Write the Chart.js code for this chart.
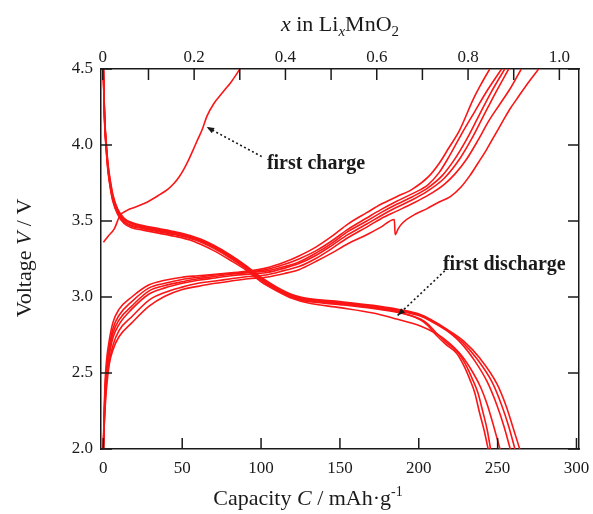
<!DOCTYPE html>
<html>
<head>
<meta charset="utf-8">
<script src="https://cdn.jsdelivr.net/npm/chart.js@4.4.0/dist/chart.umd.min.js"></script>
<style>
  html, body { margin: 0; padding: 0; background: #fff; }
  canvas { display: block; }
</style>
</head>
<body>
<canvas id="myChart" width="593" height="514"></canvas>
<script>
// capacity (mAh/g), voltage (V)
const firstCharge = [[0,3.36],[3,3.40],[7,3.45],[10.5,3.535],[15,3.57],[20,3.59],[28,3.625],[36,3.675],[41,3.71],[45,3.75],[48,3.79],[51,3.84],[54,3.90],[57,3.97],[60,4.04],[62.6,4.10],[65.7,4.19],[69.9,4.27],[76,4.35],[81.4,4.42],[86.6,4.5]];

const charge2 = [[0,2.0],[0.4,2.2],[1,2.42],[2,2.58],[3.5,2.7],[6,2.83],[10,2.92],[18,3.0],[29,3.08],[39,3.11],[50,3.13],[60,3.14],[71,3.15],[81,3.16],[92,3.17],[103,3.19],[115,3.23],[124,3.27],[135,3.33],[145,3.40],[155,3.48],[167,3.555],[176,3.61],[186,3.66],[196,3.71],[206,3.79],[213,3.88],[219,3.98],[226,4.10],[234.5,4.3],[239.5,4.4],[245,4.5]];
const charge3 = [[0,2.0],[0.4,2.18],[1,2.38],[2,2.54],[3.5,2.66],[6,2.79],[10,2.88],[18,2.97],[29,3.06],[39,3.09],[50,3.115],[60,3.13],[71,3.145],[81,3.155],[92,3.165],[103,3.18],[115,3.215],[124,3.25],[135,3.305],[145,3.37],[155,3.445],[167,3.52],[176,3.575],[186,3.63],[196,3.68],[206,3.74],[213,3.82],[219,3.92],[227,4.07],[235.5,4.22],[243.5,4.36],[252.5,4.5]];
const charge4 = [[0,2.0],[0.4,2.16],[1,2.35],[2,2.51],[3.5,2.63],[6,2.76],[10,2.85],[18,2.94],[29,3.04],[39,3.075],[50,3.1],[60,3.12],[71,3.135],[81,3.15],[92,3.16],[103,3.17],[115,3.2],[124,3.23],[135,3.29],[145,3.355],[155,3.43],[167,3.50],[176,3.555],[186,3.61],[196,3.66],[206,3.72],[215,3.80],[223,3.91],[230.5,4.04],[237.5,4.18],[245.5,4.34],[254.5,4.5]];
const charge5 = [[0,2.0],[0.4,2.15],[1,2.32],[2,2.48],[3.5,2.6],[6,2.73],[10,2.82],[18,2.92],[29,3.02],[39,3.06],[50,3.09],[60,3.11],[71,3.125],[81,3.14],[92,3.15],[103,3.16],[115,3.19],[124,3.22],[135,3.275],[145,3.34],[155,3.41],[167,3.48],[176,3.535],[186,3.59],[196,3.64],[206,3.70],[216,3.78],[226,3.91],[233.5,4.04],[240.5,4.18],[248.5,4.34],[257,4.5]];
const charge6 = [[0,2.0],[0.4,2.13],[1,2.28],[2,2.44],[3.5,2.56],[6,2.68],[10,2.78],[18,2.87],[29,2.98],[39,3.03],[50,3.065],[60,3.09],[71,3.105],[81,3.12],[92,3.135],[103,3.145],[115,3.175],[124,3.20],[135,3.255],[145,3.32],[155,3.39],[167,3.46],[176,3.515],[186,3.565],[196,3.615],[206,3.67],[216,3.74],[223,3.81],[230.5,3.91],[237.5,4.03],[244.5,4.16],[251.5,4.27],[258.5,4.38],[265,4.5]];
const charge7 = [[0,2.0],[0.4,2.12],[1,2.25],[2,2.4],[3.8,2.56],[6,2.65],[10,2.74],[18,2.83],[29,2.94],[39,3.005],[50,3.05],[60,3.07],[71,3.09],[81,3.105],[92,3.12],[103,3.13],[115,3.155],[124,3.18],[135,3.235],[145,3.29],[155,3.35],[167,3.41],[176,3.46],[184.5,3.51],[185,3.41],[187,3.45],[190,3.49],[197,3.54],[205,3.58],[212,3.62],[220,3.66],[226.5,3.72],[232.5,3.80],[237.5,3.88],[243,3.97],[248.5,4.07],[254,4.17],[258,4.24],[262,4.30],[268,4.39],[276,4.5]];

const discharge1 = [[0,4.5],[0.4,4.28],[0.9,4.12],[2,3.94],[3,3.82],[4.5,3.71],[6,3.63],[9,3.545],[13,3.485],[18,3.455],[25,3.44],[35,3.42],[45,3.40],[55,3.375],[62,3.345],[70,3.305],[80,3.245],[90,3.18],[100,3.10],[110,3.04],[120,2.99],[130,2.96],[150,2.93],[171,2.895],[186,2.855],[201,2.81],[211,2.76],[219,2.70],[227.5,2.61],[234.5,2.50],[239.5,2.40],[243.5,2.29],[247.5,2.15],[251.5,2.0]];
const discharge2 = [[0,4.5],[0.4,4.3],[0.9,4.14],[2,3.96],[3,3.84],[4.5,3.73],[6,3.645],[9,3.56],[13,3.5],[18,3.47],[25,3.455],[35,3.435],[45,3.415],[55,3.39],[62,3.365],[70,3.325],[80,3.265],[90,3.195],[100,3.115],[110,3.05],[120,3.0],[130,2.975],[150,2.955],[171,2.93],[186,2.905],[201,2.85],[206,2.81],[211,2.75],[217,2.69],[224,2.63],[228.5,2.55],[232.5,2.455],[235.5,2.37],[238.5,2.24],[241.5,2.12],[244,2.0]];
const discharge3 = [[0,4.5],[0.4,4.29],[0.9,4.13],[2,3.95],[3,3.83],[4.5,3.72],[6,3.64],[9,3.555],[13,3.495],[18,3.465],[25,3.45],[35,3.43],[45,3.41],[55,3.385],[62,3.36],[70,3.32],[80,3.26],[90,3.19],[100,3.11],[110,3.045],[120,2.995],[130,2.97],[150,2.95],[171,2.925],[186,2.9],[201,2.855],[206,2.82],[211,2.765],[217,2.705],[224.5,2.64],[229.5,2.56],[234,2.46],[237.5,2.37],[240.5,2.25],[243.5,2.12],[245.5,2.0]];
const discharge4 = [[0,4.5],[0.4,4.31],[0.9,4.15],[2,3.97],[3,3.85],[4.5,3.74],[6,3.655],[9,3.57],[13,3.51],[18,3.48],[25,3.46],[35,3.44],[45,3.42],[55,3.395],[62,3.37],[70,3.33],[80,3.27],[90,3.20],[100,3.12],[110,3.055],[120,3.005],[130,2.98],[150,2.96],[171,2.935],[186,2.91],[201,2.875],[207,2.845],[217.5,2.78],[226.5,2.70],[235.5,2.58],[243.5,2.44],[249.5,2.29],[254,2.15],[258,2.0]];
const discharge5 = [[0,4.5],[0.4,4.32],[0.9,4.16],[2,3.98],[3,3.86],[4.5,3.75],[6,3.665],[9,3.575],[13,3.515],[18,3.485],[25,3.465],[35,3.445],[45,3.425],[55,3.4],[62,3.375],[70,3.335],[80,3.275],[90,3.205],[100,3.125],[110,3.06],[120,3.01],[130,2.985],[150,2.965],[171,2.94],[186,2.915],[201,2.88],[207,2.85],[217.5,2.785],[227.5,2.705],[237.5,2.585],[246.5,2.44],[252.5,2.29],[257,2.15],[261,2.0]];
const discharge6 = [[0,4.5],[0.4,4.33],[0.9,4.17],[2,3.99],[3,3.87],[4.5,3.76],[6,3.675],[9,3.58],[13,3.52],[18,3.49],[25,3.47],[35,3.45],[45,3.43],[55,3.405],[62,3.38],[70,3.34],[80,3.28],[90,3.21],[100,3.13],[110,3.065],[120,3.015],[130,2.99],[150,2.97],[171,2.945],[186,2.92],[201,2.885],[207,2.855],[217.5,2.79],[228.5,2.71],[238.5,2.60],[249.5,2.43],[255.5,2.28],[259.5,2.15],[264,2.0]];

const capacityTicks = [0, 50, 100, 150, 200, 250, 300];
const voltageTicks = [2.0, 2.5, 3.0, 3.5, 4.0, 4.5];
const xLiTicks = [0, 0.1, 0.2, 0.3, 0.4, 0.5, 0.6, 0.7, 0.8, 0.9, 1.0];

// labels with dotted arrows: text position, arrow start, arrow tip (data coords)
const notes = [
    { text: 'first charge', at: [103.7, 3.843], from: [100.4, 3.924], to: [65.5, 4.118] },
    { text: 'first discharge', at: [215.3, 3.178], from: [216.5, 3.172], to: [186.6, 2.879] },
];

const serif = '"Liberation Serif", "Times New Roman", serif';
const red = 'rgb(250, 22, 22)';
const ink = '#1a1a1a';

const allCurves = [firstCharge, charge2, charge3, charge4, charge5, charge6, charge7,
    discharge1, discharge2, discharge3, discharge4, discharge5, discharge6];

const datasets = allCurves.map(curve => ({
    data: curve.map(p => ({ x: p[0], y: p[1] })),
    borderColor: red,
    borderWidth: 1.6,
    pointRadius: 0,
    fill: false,
    cubicInterpolationMode: 'monotone',
}));

function near(list, v) {
    return list.some(t => Math.abs(t - v) < 1e-6);
}

// ticks drawn inward, like the original figure
const inwardTicks = {
    id: 'inwardTicks',
    afterDraw(chart) {
        const { ctx, chartArea: a, scales } = chart;
        const len = 11;
        ctx.save();
        ctx.strokeStyle = ink;
        ctx.lineWidth = 1.5;
        ctx.beginPath();
        capacityTicks.forEach(v => {
            const px = scales.x.getPixelForValue(v);
            ctx.moveTo(px, a.bottom); ctx.lineTo(px, a.bottom - len);
        });
        xLiTicks.forEach(v => {
            const px = scales.x2.getPixelForValue(v);
            ctx.moveTo(px, a.top); ctx.lineTo(px, a.top + len);
        });
        voltageTicks.forEach(v => {
            const py = scales.y.getPixelForValue(v);
            ctx.moveTo(a.left, py); ctx.lineTo(a.left + len, py);
            ctx.moveTo(a.right, py); ctx.lineTo(a.right - len, py);
        });
        ctx.stroke();
        ctx.restore();
    }
};

function drawRuns(ctx, runs, x, y) {
    let w = 0;
    runs.forEach(r => { ctx.font = r.font; w += ctx.measureText(r.text).width; });
    let cx = x - w / 2;
    runs.forEach(r => {
        ctx.font = r.font;
        ctx.fillText(r.text, cx, y + (r.dy || 0));
        cx += ctx.measureText(r.text).width;
    });
}

const axisTitles = {
    id: 'axisTitles',
    afterDraw(chart) {
        const ctx = chart.ctx;
        const f = '22px ' + serif;
        const fi = 'italic 22px ' + serif;
        const small = '15px ' + serif;
        const smallI = 'italic 15px ' + serif;
        ctx.save();
        ctx.fillStyle = ink;
        ctx.textAlign = 'left';
        ctx.textBaseline = 'alphabetic';

        drawRuns(ctx, [
            { text: 'x', font: fi },
            { text: ' in Li', font: f },
            { text: 'x', font: smallI, dy: 5 },
            { text: 'MnO', font: f },
            { text: '2', font: small, dy: 5 },
        ], 340, 31);

        drawRuns(ctx, [
            { text: 'Capacity ', font: f },
            { text: 'C', font: fi },
            { text: ' / mAh·g', font: f },
            { text: '-1', font: '14px ' + serif, dy: -9 },
        ], 308, 505);

        ctx.translate(31, 258);
        ctx.rotate(-Math.PI / 2);
        drawRuns(ctx, [
            { text: 'Voltage ', font: f },
            { text: 'V', font: fi },
            { text: ' / V', font: f },
        ], 0, 0);
        ctx.restore();
    }
};

const arrowNotes = {
    id: 'arrowNotes',
    afterDraw(chart) {
        const { ctx, scales } = chart;
        ctx.save();
        notes.forEach(n => {
            const x1 = scales.x.getPixelForValue(n.from[0]);
            const y1 = scales.y.getPixelForValue(n.from[1]);
            const x2 = scales.x.getPixelForValue(n.to[0]);
            const y2 = scales.y.getPixelForValue(n.to[1]);
            ctx.strokeStyle = ink;
            ctx.fillStyle = ink;
            ctx.lineWidth = 1.6;
            ctx.setLineDash([2, 2.5]);
            ctx.beginPath();
            ctx.moveTo(x1, y1);
            ctx.lineTo(x2, y2);
            ctx.stroke();
            ctx.setLineDash([]);
            const ang = Math.atan2(y2 - y1, x2 - x1);
            const hl = 8, hw = 0.38;
            ctx.beginPath();
            ctx.moveTo(x2, y2);
            ctx.lineTo(x2 - hl * Math.cos(ang - hw), y2 - hl * Math.sin(ang - hw));
            ctx.lineTo(x2 - hl * Math.cos(ang + hw), y2 - hl * Math.sin(ang + hw));
            ctx.closePath();
            ctx.fill();

            ctx.font = 'bold 20px ' + serif;
            ctx.textAlign = 'left';
            ctx.textBaseline = 'alphabetic';
            ctx.fillText(n.text, scales.x.getPixelForValue(n.at[0]), scales.y.getPixelForValue(n.at[1]));
        });
        ctx.restore();
    }
};

const tickFont = { family: serif, size: 17 };

// fixed box sizes so the plot area sits where the original one does
function fixBox(size) {
    return s => {
        if (s.isHorizontal()) s.height = size; else s.width = size;
        s.paddingLeft = 0; s.paddingRight = 0;
        s.paddingTop = 0; s.paddingBottom = 0;
    };
}

const myChart = new Chart(document.getElementById('myChart'), {
    type: 'line',
    data: { datasets: datasets },
    options: {
        responsive: false,
        animation: false,
        devicePixelRatio: 1,
        layout: { padding: 0, autoPadding: false },
        plugins: { legend: { display: false }, tooltip: { enabled: false } },
        scales: {
            x: {
                type: 'linear', position: 'bottom', min: -1.5, max: 301.6,
                ticks: {
                    stepSize: 50, includeBounds: false, autoSkip: false, maxRotation: 0,
                    padding: 9, color: ink, font: tickFont,
                    callback: v => near(capacityTicks, v) ? String(v) : ''
                },
                grid: { drawOnChartArea: false, drawTicks: false },
                border: { color: ink, width: 1.5 },
                afterFit: fixBox(65)
            },
            x2: {
                type: 'linear', position: 'top', min: -0.004, max: 1.043,
                ticks: {
                    stepSize: 0.1, includeBounds: false, autoSkip: false, maxRotation: 0,
                    padding: 1, color: ink, font: tickFont,
                    callback: v => {
                        if (Math.abs(v) < 1e-6) return '0';
                        return Math.round(v * 10) % 2 === 0 ? v.toFixed(1) : '';
                    }
                },
                grid: { drawOnChartArea: false, drawTicks: false },
                border: { color: ink, width: 1.5 },
                afterFit: fixBox(69)
            },
            y: {
                type: 'linear', position: 'left', min: 2, max: 4.5,
                ticks: {
                    stepSize: 0.5, includeBounds: false, padding: 8, color: ink, font: tickFont,
                    callback: v => v.toFixed(1)
                },
                grid: { drawOnChartArea: false, drawTicks: false },
                border: { color: ink, width: 1.5 },
                afterFit: fixBox(101)
            },
            y2: {
                type: 'linear', position: 'right', min: 2, max: 4.5,
                ticks: { display: false, stepSize: 0.5 },
                grid: { drawOnChartArea: false, drawTicks: false },
                border: { color: ink, width: 1.5 },
                afterFit: fixBox(14)
            }
        }
    },
    plugins: [inwardTicks, axisTitles, arrowNotes]
});
</script>
</body>
</html>
